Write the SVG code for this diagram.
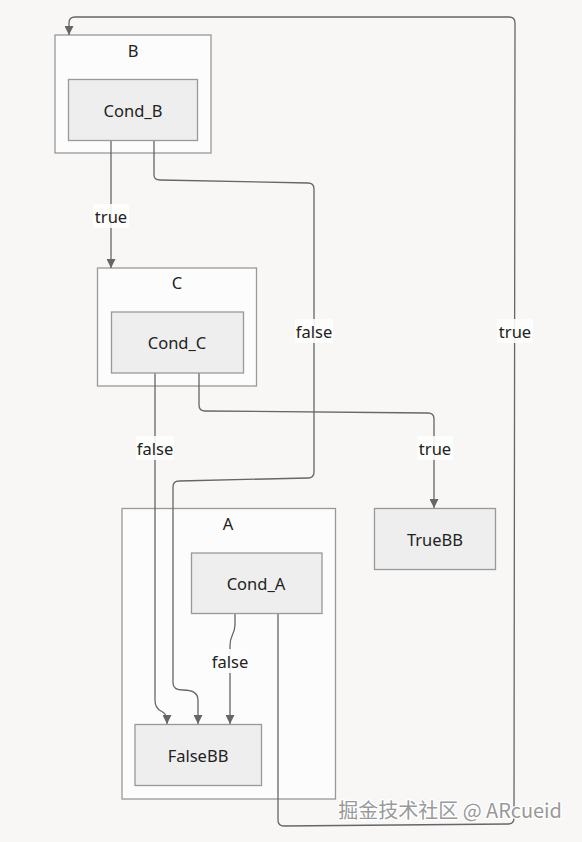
<svg xmlns="http://www.w3.org/2000/svg" width="582" height="842" viewBox="0 0 582 842">
<style>
.bg{fill:#f8f7f6}
.cluster{fill:#fcfcfc;stroke:#999;stroke-width:1.3}
.node{fill:#eeeeee;stroke:#999;stroke-width:1.3}
.t{font-family:"Noto Sans","Liberation Sans",sans-serif;font-size:16.5px;fill:#222;text-anchor:middle;dominant-baseline:central}
.edge{fill:none;stroke:#666;stroke-width:1.3}
.lblbg{fill:#fdfdfd;opacity:0.9}
.wm{font-family:"Noto Sans CJK SC","Noto Sans",sans-serif;font-size:20px;fill:#999;stroke:#fff;stroke-width:2.5;paint-order:stroke;text-anchor:end}
</style>
<defs>
<marker id="arr" viewBox="0 0 10 10" refX="10" refY="5" markerWidth="9" markerHeight="9" markerUnits="userSpaceOnUse" orient="auto">
<path d="M0,0 L10,5 L0,10 z" fill="#666"/>
</marker>
</defs>
<rect class="bg" x="0" y="0" width="582" height="842"/>

<g id="cluster-B">
<rect class="cluster" x="55" y="35" width="156" height="118"/>
<text class="t" x="133" y="50">B</text>
</g>
<g id="cluster-C">
<rect class="cluster" x="97.5" y="268" width="159" height="118"/>
<text class="t" x="177" y="282">C</text>
</g>
<g id="cluster-A">
<rect class="cluster" x="122" y="508.5" width="213.5" height="290.5"/>
<text class="t" x="228" y="523">A</text>
</g>

<g id="edges">
<path class="edge" d="M111,140 L111,268" marker-end="url(#arr)"/>
<path class="edge" d="M154,140 L154,175 Q154,180 160,180 L308,183 Q314,183 314,189 L314,472 Q314,478 308,478 L179,481 Q173,481 173,487 L173,683 Q173,690 183,690 Q198,690 198,700 L198,724" marker-end="url(#arr)"/>
<path class="edge" d="M155,372.5 L155,700 Q155,708 161,711 Q167,714 167,720 L167,724" marker-end="url(#arr)"/>
<path class="edge" d="M199,372.5 L199,405 Q199,411 205,411 L428,413 Q434,413 434,419 L434,508" marker-end="url(#arr)"/>
<path class="edge" d="M235,613 L235,625 Q235,630 232,636 Q230,640 230,646 L230,724" marker-end="url(#arr)"/>
<path class="edge" d="M278,613 L278,820 Q278,826 284,826 L508,824 Q514,824 514,818 L515,23 Q515,17 509,17 L75,17 Q69,17 69,23 L69,35" marker-end="url(#arr)"/>
<rect class="lblbg" x="93" y="204" width="36" height="24"/>
<text class="t" x="111" y="216">true</text>
<rect class="lblbg" x="295" y="319" width="38" height="24"/>
<text class="t" x="314" y="331">false</text>
<rect class="lblbg" x="136" y="436" width="38" height="24"/>
<text class="t" x="155" y="448">false</text>
<rect class="lblbg" x="417" y="436" width="36" height="24"/>
<text class="t" x="435" y="448">true</text>
<rect class="lblbg" x="211" y="649" width="38" height="24"/>
<text class="t" x="230" y="661">false</text>
<rect class="lblbg" x="497" y="319" width="36" height="24"/>
<text class="t" x="515" y="331">true</text>
</g>

<g id="Cond_B">
<rect class="node" x="68.5" y="79.5" width="129" height="61"/>
<text class="t" x="133" y="110">Cond_B</text>
</g>
<g id="Cond_C">
<rect class="node" x="111.5" y="312" width="132" height="61"/>
<text class="t" x="177" y="342">Cond_C</text>
</g>
<g id="Cond_A">
<rect class="node" x="191.5" y="553" width="130.5" height="60.5"/>
<text class="t" x="256" y="583">Cond_A</text>
</g>
<g id="TrueBB">
<rect class="node" x="374.5" y="508.5" width="121" height="61"/>
<text class="t" x="435" y="539">TrueBB</text>
</g>
<g id="FalseBB">
<rect class="node" x="135" y="724.5" width="126.5" height="61"/>
<text class="t" x="198" y="755">FalseBB</text>
</g>

<text class="wm" x="562" y="818">掘金技术社区 @ ARcueid</text>
</svg>
